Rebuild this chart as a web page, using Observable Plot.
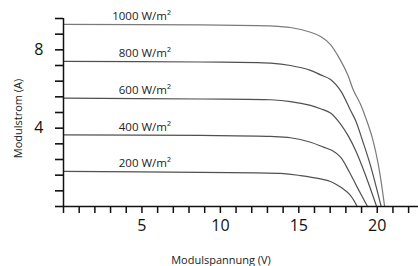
<!DOCTYPE html>
<html><head><meta charset="utf-8">
<script src="https://cdn.jsdelivr.net/npm/d3@7"></script>
<script src="https://cdn.jsdelivr.net/npm/@observablehq/plot@0.6"></script>
<style>body{margin:0;background:#fff;} #chart svg{display:block;}</style>
</head><body><div id="chart"></div>
<script>
const seriesNames = ["1000 W/m²", "800 W/m²", "600 W/m²", "400 W/m²", "200 W/m²"];
const v1000 = [0, 8.73, 13.20, 14.47, 15.75, 16.39, 17.02, 17.66, 18.11, 18.49, 18.94, 19.26, 19.68, 20.08, 20.47];
const i1000 = [9.30, 9.27, 9.22, 9.14, 8.90, 8.68, 8.27, 7.46, 6.74, 5.92, 5.21, 4.54, 3.52, 2.09, 0];
const v800 = [0, 8.73, 13.20, 14.47, 15.75, 16.39, 17.02, 17.66, 18.30, 18.62, 19.06, 19.57, 20.25];
const i800 = [7.41, 7.38, 7.32, 7.20, 6.95, 6.72, 6.49, 5.92, 4.90, 4.39, 3.37, 2.09, 0];
const v600 = [0, 8.73, 13.20, 14.47, 15.75, 16.39, 17.02, 17.66, 18.17, 18.68, 19.26, 19.96];
const i600 = [5.53, 5.49, 5.45, 5.36, 5.16, 4.99, 4.77, 4.21, 3.58, 2.76, 1.58, 0];
const v400 = [0, 8.73, 13.20, 14.47, 15.75, 16.58, 17.13, 17.66, 18.17, 18.72, 19.38];
const i400 = [3.66, 3.63, 3.58, 3.51, 3.28, 3.03, 2.86, 2.52, 1.84, 0.99, 0];
const v200 = [0, 8.73, 13.84, 15.11, 16.39, 17.02, 17.66, 18.30, 18.72];
const i200 = [1.79, 1.74, 1.69, 1.58, 1.41, 1.28, 0.99, 0.56, 0];

const xTicks = [0,1,2,3,4,5,6,7,8,9,10,11,12,13,14,15,16,17,18,19,20,21,22];
const xTickLabels = [5, 10, 15, 20];
const yTicks = [0, 0.8, 1.6, 2.4, 3.2, 4, 4.8, 5.6, 6.4, 7.2, 8, 8.8, 9.6];
const yTickLabels = [4, 8];
const xTitle = "Modulspannung (V)";
const yTitle = "Modulstrom (A)";

const volts = [v1000, v800, v600, v400, v200];
const amps = [i1000, i800, i600, i400, i200];
const rows = [];
seriesNames.forEach((name, k) => volts[k].forEach((v, j) => rows.push({name, V: v, I: amps[k][j]})));
const labels = seriesNames.map((name, k) => ({name, I: amps[k][0]}));

const chart = Plot.plot({
  width: 418, height: 266,
  marginLeft: 63, marginRight: 0, marginTop: 18, marginBottom: 60,
  style: {fontFamily: "'Open Sans'", color: "#111"},
  x: {domain: [0, 22.63]},
  y: {domain: [0, 9.6]},
  marks: [
    Plot.line(rows, {x: "V", y: "I", z: "name", stroke: "name", strokeWidth: 1.2, curve: "catmull-rom"}),
    Plot.axisX({ticks: xTicks, tickSize: 7, tickPadding: 6, fontSize: 16, strokeWidth: 1.5, label: null,
      tickFormat: d => xTickLabels.includes(d) ? String(d) : ""}),
    Plot.axisY({ticks: yTicks, tickSize: 8, tickPadding: 12, fontSize: 16, strokeWidth: 1.6, label: null,
      tickFormat: d => yTickLabels.includes(d) ? String(d) : ""}),
    Plot.ruleY([0], {stroke: "#111", strokeWidth: 1.5}),
    Plot.ruleX([0], {stroke: "#111", strokeWidth: 1.5}),
    Plot.text(labels, {x: () => 6.85, y: "I", text: "name", textAnchor: "end", lineAnchor: "bottom", dy: -4, fontSize: 11.5, fill: "#222"}),
    Plot.text([xTitle], {frameAnchor: "bottom", lineAnchor: "middle", dx: -20, dy: 54, fontSize: 11, fill: "#222"}),
    Plot.text([yTitle], {frameAnchor: "left", textAnchor: "middle", lineAnchor: "middle", rotate: -90, dx: -45, dy: 6, fontSize: 11, fill: "#222"})
  ],
  color: {domain: seriesNames, range: ["#7a7a7a", "#505050", "#505050", "#505050", "#505050"]}
});
document.getElementById("chart").appendChild(chart);
</script>
</body></html>
